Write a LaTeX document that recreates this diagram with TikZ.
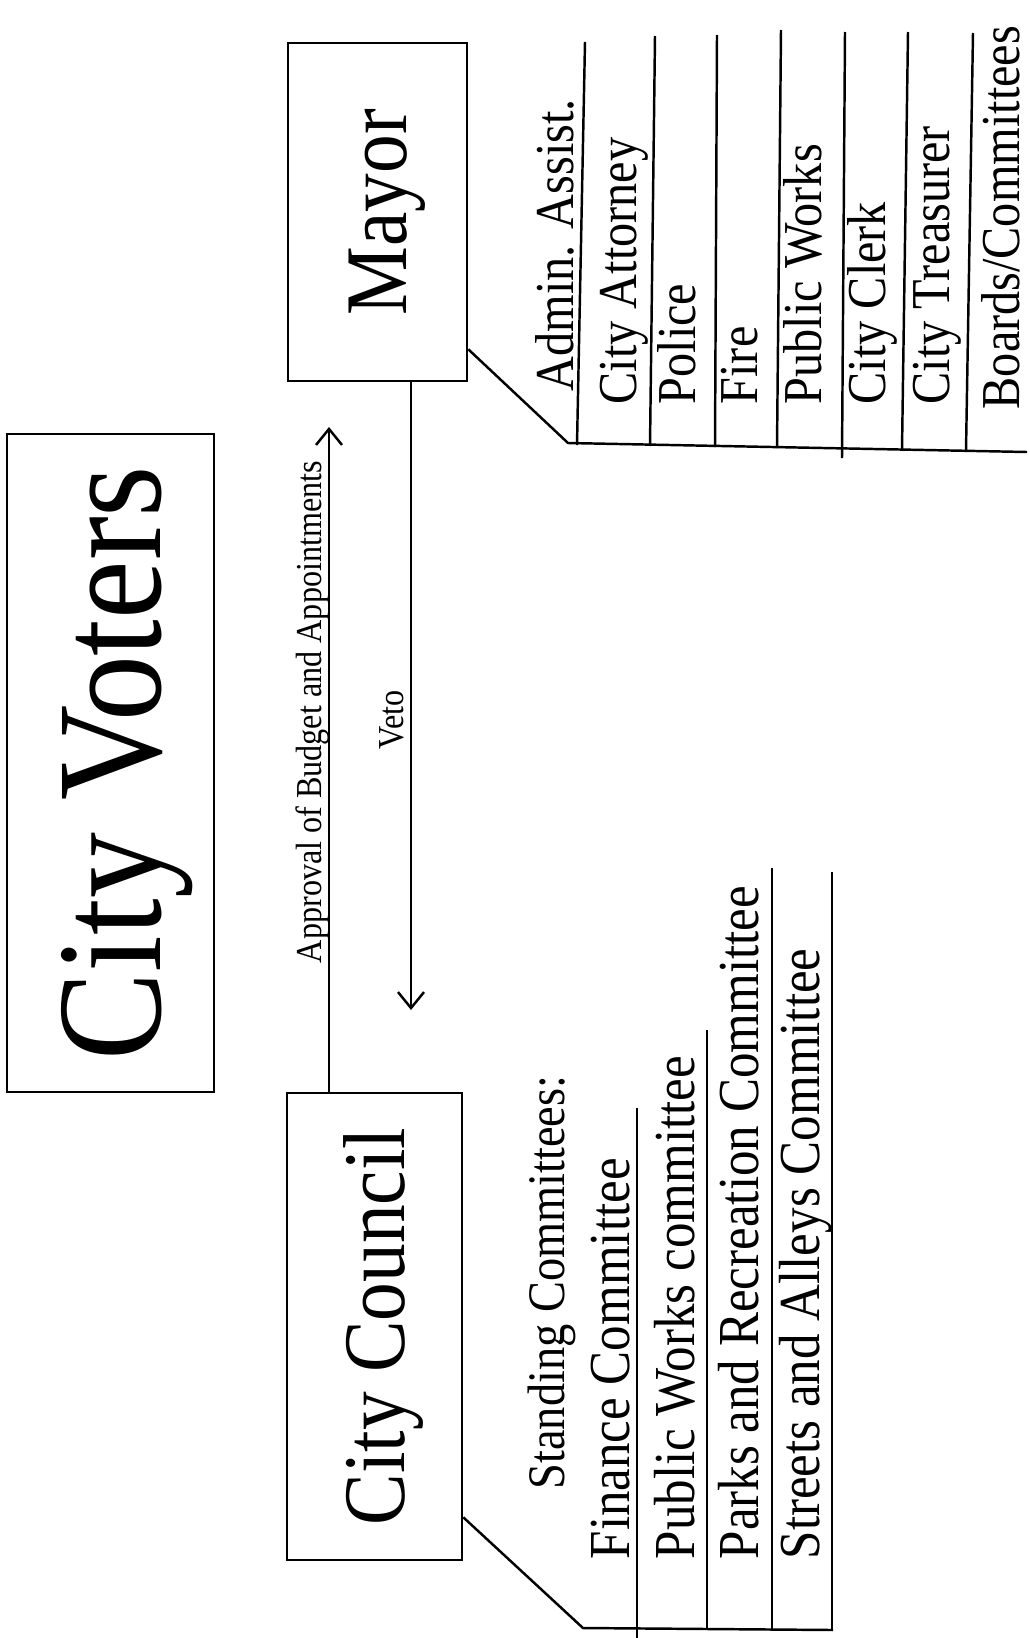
\documentclass[tikz,border=0pt]{standalone}
\usepackage{fontspec}
\setmainfont{Liberation Serif}[FakeStretch=0.88]
\usetikzlibrary{arrows.meta}

\tikzset{
	box/.style={draw, line width=0.75pt, rotate=90, inner sep=0pt, text depth=0pt},
	item/.style={rotate=90, anchor=base west, inner sep=0pt},
	lbl/.style={rotate=90, anchor=base, inner sep=0pt},
	rule/.style={line width=0.7pt},
	arr/.style={-{Straight Barb[length=1.6mm, width=2.6mm]}, line width=0.7pt},
}

\begin{document}
\begin{tikzpicture}[x=0.1mm, y=-0.1mm]
	\useasboundingbox (0, 0) rectangle (1029, 1638);

	\def\bigfont{\fontsize{42.6}{45}\selectfont}
	\def\headfont{\fontsize{25}{27}\selectfont}
	\def\stafffont{\fontsize{15.6}{17}\selectfont}
	\def\cmtfont{\fontsize{16.5}{18}\selectfont}
	\def\standfont{\fontsize{15}{16}\selectfont}
	\def\arrfont{\fontsize{10.4}{11}\selectfont}

	% boxes
	\node[box, minimum width=65.8mm, minimum height=20.7mm, font=\bigfont]
		(voters) at (110.5, 763) {City Voters};
	\node[box, minimum width=33.8mm, minimum height=17.9mm, font=\headfont]
		(mayor) at (377.5, 212) {Mayor};
	\node[box, minimum width=46.7mm, minimum height=17.5mm, font=\headfont]
		(council) at (374.5, 1326.5) {City Council};

	% arrows between council and mayor
	\coordinate (apptip) at (329, 427);
	\coordinate (vetotip) at (411, 1010);
	\draw[arr] (apptip |- council.east) -- (apptip);
	\draw[arr] (vetotip |- mayor.west) -- (vetotip);
	\node[lbl, font=\arrfont] (approval) at (321, 712)
		{Approval of Budget and Appointments};
	\node[lbl, font=\arrfont] (veto) at (403, 720) {Veto};

	% mayor's list
	\coordinate (mcorner) at (568, 443);
	\draw[rule] ([yshift=3.3mm]mayor.south west) -- (mcorner) -- (1027, 452);
	\foreach \t/\b/\y/\e in {585/577/42/445, 655/650/36/446, 717/715/35/447,
			781/777/30/448, 845/842/32/458, 908/902/32/450, 973/966/33/451} {
		\draw[rule] (\t, \y) -- (\b, \e);
	}
	\foreach \b/\s/\name [count=\i] in {573/392/Admin. Assist.,
			636/405/City Attorney, 695/405/Police, 757/405/Fire,
			821/405/Public Works, 885/405/City Clerk, 949/405/City Treasurer,
			1019/410/{Boards/Committees}} {
		\node[item, font=\stafffont] (staff\i) at (\b, \s) {\name};
	}

	% council's list
	\coordinate (ccorner) at (583, 1628);
	\draw[rule] ([yshift=4.4mm]council.south west) -- (ccorner) -- (833, 1630);
	\foreach \x/\t/\e in {637/1108/1638, 707/1030/1629, 772/868/1630, 832/872/1630} {
		\draw[rule] (\x, \t) -- (\x, \e);
	}
	\node[item, font=\standfont] (standing) at (564, 1490) {Standing Committees:};
	\foreach \b/\name [count=\i] in {629/Finance Committee,
			694/Public Works committee, 758/Parks and Recreation Committee,
			819/Streets and Alleys Committee} {
		\node[item, font=\cmtfont] (cmt\i) at (\b, 1560) {\name};
	}

\end{tikzpicture}
\end{document}
